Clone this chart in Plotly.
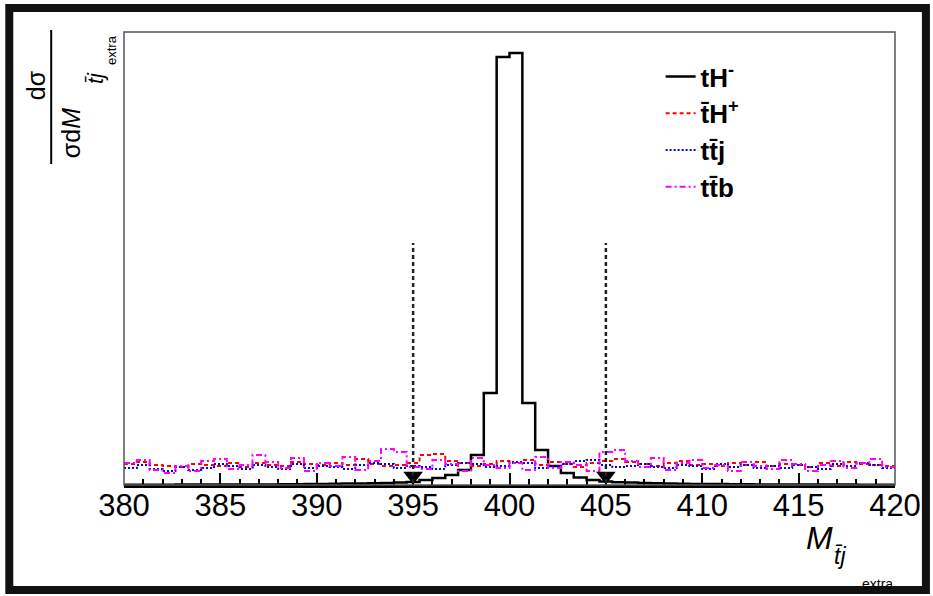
import numpy as np
import plotly.graph_objects as go

# ---------------- data ----------------
x_lo, x_hi, n_bins = 380.0, 420.0, 60
edges = np.linspace(x_lo, x_hi, n_bins + 1)

# normalised distributions (arbitrary units), 60 bins of 2/3 GeV
tHm = [0.0003, 0.0003, 0.0003, 0.0003, 0.0004, 0.0004, 0.0004, 0.0005, 0.0005, 0.0005,
       0.0006, 0.0006, 0.0007, 0.0008, 0.0009, 0.0010, 0.0012, 0.0014, 0.0016, 0.0018,
       0.0020, 0.0025, 0.0030, 0.0050, 0.0070, 0.0100, 0.0150, 0.0300, 0.0920, 0.4280,
       0.4320, 0.0820, 0.0350, 0.0190, 0.0120, 0.0075, 0.0050, 0.0035, 0.0028, 0.0024,
       0.0020, 0.0018, 0.0015, 0.0013, 0.0011, 0.0010, 0.0009, 0.0008, 0.0007, 0.0006,
       0.0006, 0.0005, 0.0005, 0.0005, 0.0004, 0.0004, 0.0004, 0.0003, 0.0003, 0.0003]

tHp = [0.021, 0.023, 0.020, 0.019, 0.018, 0.021, 0.020, 0.019, 0.022, 0.018,
       0.022, 0.020, 0.019, 0.023, 0.021, 0.020, 0.022, 0.020, 0.026, 0.021,
       0.019, 0.020, 0.022, 0.030, 0.031, 0.024, 0.022, 0.019, 0.021, 0.024,
       0.022, 0.025, 0.020, 0.023, 0.021, 0.018, 0.022, 0.024, 0.026, 0.023,
       0.021, 0.019, 0.022, 0.024, 0.020, 0.021, 0.019, 0.022, 0.020, 0.023,
       0.019, 0.021, 0.020, 0.018, 0.022, 0.019, 0.023, 0.021, 0.020, 0.019]

ttj = [0.017, 0.020, 0.016, 0.014, 0.018, 0.015, 0.017, 0.021, 0.019, 0.016,
       0.020, 0.018, 0.016, 0.021, 0.017, 0.019, 0.018, 0.016, 0.020, 0.022,
       0.021, 0.017, 0.019, 0.018, 0.016, 0.020, 0.022, 0.021, 0.018, 0.019,
       0.023, 0.022, 0.017, 0.019, 0.021, 0.024, 0.025, 0.020, 0.018, 0.019,
       0.021, 0.018, 0.017, 0.020, 0.019, 0.016, 0.021, 0.018, 0.020, 0.017,
       0.019, 0.017, 0.020, 0.018, 0.016, 0.021, 0.019, 0.022, 0.020, 0.017]

ttb = [0.022, 0.025, 0.015, 0.012, 0.019, 0.014, 0.024, 0.026, 0.016, 0.020,
       0.030, 0.023, 0.017, 0.027, 0.014, 0.022, 0.019, 0.028, 0.015, 0.024,
       0.036, 0.033, 0.018, 0.016, 0.025, 0.021, 0.014, 0.027, 0.020, 0.017,
       0.022, 0.015, 0.028, 0.017, 0.023, 0.020, 0.014, 0.033, 0.035, 0.024,
       0.018, 0.027, 0.015, 0.022, 0.025, 0.017, 0.020, 0.014, 0.023, 0.019,
       0.016, 0.025, 0.021, 0.014, 0.020, 0.024, 0.017, 0.022, 0.026, 0.018]

series_names = ["<b>tH<sup>-</sup></b>", "<b>t\u0304H<sup>+</sup></b>",
                "<b>tt\u0304j</b>", "<b>tt\u0304b</b>"]
series_vals = [tHm, tHp, ttj, ttb]
series_colors = ["#000000", "#ff0000", "#0000ff", "#ff00ff"]
series_dash = ["solid", "4px,3px", "2px,2px", "6px,3px,2px,3px"]
series_width = [2.5, 2.0, 2.0, 2.0]

cuts = [395.0, 405.0]
cut_top = 0.242
cut_bottom = 0.002

x_ticks = [380, 385, 390, 395, 400, 405, 410, 415, 420]
y_range = [0, 0.453]

FONT = "Liberation Sans"

# ---------------- figure ----------------
fig = go.Figure()

for name, vals, col, dash, w in zip(series_names, series_vals, series_colors,
                                    series_dash, series_width):
    xs = list(edges)
    ys = list(vals) + [vals[-1]]
    fig.add_trace(go.Scatter(
        x=xs, y=ys, mode="lines", name=name,
        line=dict(color=col, width=w, dash=dash, shape="hv"),
        hoverinfo="skip"))

# cut lines with arrowheads
for c in cuts:
    fig.add_shape(type="line", xref="x", yref="y", x0=c, x1=c,
                  y0=cut_bottom, y1=cut_top,
                  line=dict(color="#222222", width=2.5, dash="4px,3px"))
fig.add_trace(go.Scatter(
    x=cuts, y=[0.009] * len(cuts), mode="markers", showlegend=False,
    marker=dict(symbol="triangle-down", size=17, color="black"),
    hoverinfo="skip"))

# plot frame
fig.add_shape(type="rect", xref="paper", yref="paper", x0=0, x1=1, y0=0, y1=1,
              line=dict(color="#555555", width=1.5), layer="above")

L, R, T, B = 124, 36, 32, 111
W, H = 933, 596
PW, PH = W - L - R, H - T - B


def px(xp):
    return (xp - L) / PW


def py(yp):
    return (H - B - yp) / PH


# sketchy outer border
fig.add_shape(type="rect", xref="paper", yref="paper",
              x0=px(9), x1=px(928), y0=py(590), y1=py(8),
              line=dict(color="#111111", width=8))

ann = []
# y-axis title (fraction, rotated)
ann.append(dict(text="d\u03c3", x=px(36), y=py(85), textangle=-90,
                font=dict(family=FONT, size=25, color="black")))
fig.add_shape(type="line", xref="paper", yref="paper",
              x0=px(51), x1=px(51), y0=py(30), y1=py(164),
              line=dict(color="black", width=2))
ann.append(dict(text="\u03c3d<i>M</i>", x=px(71), y=py(133), textangle=-90,
                font=dict(family=FONT, size=25, color="black")))
ann.append(dict(text="<i>t\u0304j</i>", x=px(96), y=py(78), textangle=-90,
                font=dict(family=FONT, size=22, color="black")))
ann.append(dict(text="extra", x=px(112), y=py(50), textangle=-90,
                font=dict(family=FONT, size=13, color="black")))
# x-axis title
ann.append(dict(text="<i>M</i>", x=px(821), y=py(538),
                font=dict(family=FONT, size=32, color="black")))
ann.append(dict(text="<i>t\u0304j</i>", x=px(842), y=py(556),
                font=dict(family=FONT, size=23, color="black")))
ann.append(dict(text="extra", x=px(879), y=py(584),
                font=dict(family=FONT, size=14, color="black")))
for a in ann:
    a.update(xref="paper", yref="paper", showarrow=False,
             xanchor="center", yanchor="middle")

fig.update_layout(
    width=W, height=H, autosize=False,
    margin=dict(l=L, r=R, t=T, b=B, pad=0),
    paper_bgcolor="white", plot_bgcolor="white",
    annotations=ann,
    showlegend=True,
    legend=dict(x=px(662), y=py(53), xanchor="left", yanchor="top",
                bgcolor="rgba(0,0,0,0)", borderwidth=0, itemwidth=30,
                font=dict(family=FONT, size=26, color="black"),
                tracegroupgap=0),
    xaxis=dict(range=[x_lo, x_hi], tickvals=x_ticks,
               ticktext=[str(t) for t in x_ticks],
               ticks="inside", ticklen=12, tickwidth=1.5, tickcolor="black",
               ticklabelstandoff=-9,
               minor=dict(ticks="inside", ticklen=6, dtick=1, tickwidth=1.5,
                          tickcolor="black", showgrid=False),
               showline=True, linecolor="black", linewidth=2.5,
               showgrid=False, zeroline=False,
               tickfont=dict(family=FONT, size=31, color="black")),
    yaxis=dict(range=y_range, showticklabels=False, ticks="",
               showgrid=False, zeroline=False, showline=False),
)

fig.write_html("out.html", config={"displayModeBar": False},
               post_script="document.body.style.margin='0px';")
